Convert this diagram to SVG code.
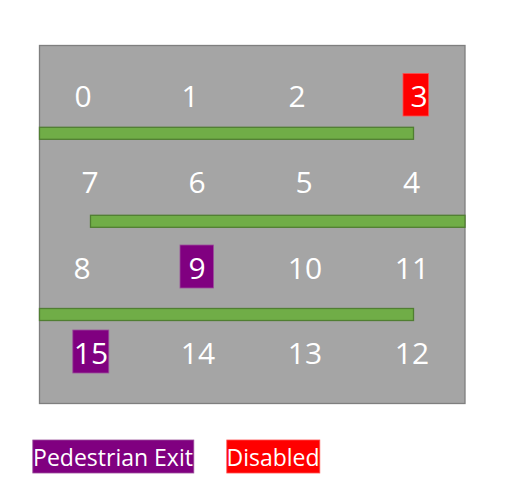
<svg xmlns="http://www.w3.org/2000/svg" width="530" height="500" viewBox="0 0 530 500">
<style>
.num{font-family:"Open Sans","Noto Sans",sans-serif;font-size:30px;fill:#ffffff;text-anchor:middle}
.leg{font-family:"Open Sans","Noto Sans",sans-serif;font-size:23px;fill:#ffffff;text-anchor:middle}
.bar{fill:#70ad47;stroke:#507e32;stroke-width:1.3}
.exit{fill:#800080;stroke:#9b4f9b;stroke-width:0.8}
.dis{fill:#ff0000;stroke:#ff5050;stroke-width:0.8}
</style>
<rect width="530" height="500" fill="#ffffff"/>
<g id="lot">
<rect x="39.5" y="45.5" width="425.5" height="358" fill="#a5a5a5" stroke="#7f7f7f" stroke-width="1.3"/>
</g>
<g id="connectors">
<rect class="bar" x="39.5" y="127.3" width="374" height="12"/>
<rect class="bar" x="90.5" y="215.3" width="374.5" height="12"/>
<rect class="bar" x="39.5" y="308.5" width="374" height="12"/>
</g>
<g id="n0"><text class="num" x="83" y="107">0</text></g>
<g id="n1"><text class="num" x="190" y="107">1</text></g>
<g id="n2"><text class="num" x="297" y="107">2</text></g>
<g id="n3"><rect class="dis" x="403" y="73.5" width="25.5" height="42.5"/><text class="num" x="419" y="107">3</text></g>
<g id="n7"><text class="num" x="90" y="193">7</text></g>
<g id="n6"><text class="num" x="197" y="193">6</text></g>
<g id="n5"><text class="num" x="304" y="193">5</text></g>
<g id="n4"><text class="num" x="411.5" y="193">4</text></g>
<g id="n8"><text class="num" x="82" y="279">8</text></g>
<g id="n9"><rect class="exit" x="180" y="245" width="33.5" height="43"/><text class="num" x="197" y="279">9</text></g>
<g id="n10"><text class="num" x="305" y="279">10</text></g>
<g id="n11"><text class="num" x="412" y="279">11</text></g>
<g id="n15"><rect class="exit" x="72.8" y="330" width="36" height="43"/><text class="num" x="91" y="364">15</text></g>
<g id="n14"><text class="num" x="198" y="364">14</text></g>
<g id="n13"><text class="num" x="305" y="364">13</text></g>
<g id="n12"><text class="num" x="412" y="364">12</text></g>
<g id="legend-exit"><rect class="exit" x="32.8" y="440" width="161" height="33"/><text class="leg" x="113" y="466">Pedestrian Exit</text></g>
<g id="legend-disabled"><rect class="dis" x="226.8" y="440" width="93" height="33"/><text class="leg" x="273" y="466">Disabled</text></g>
</svg>
